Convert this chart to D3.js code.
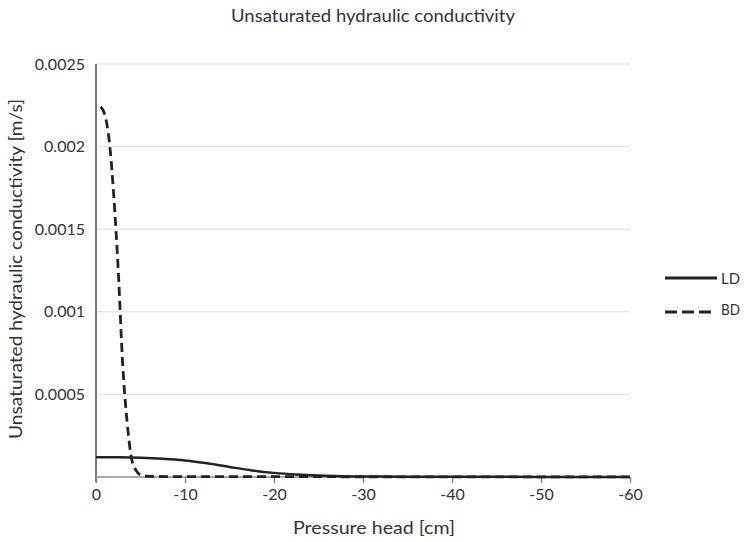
<!DOCTYPE html>
<html>
<head>
<meta charset="utf-8">
<script src="https://cdn.jsdelivr.net/npm/d3@7"></script>
<style>
  html, body { margin: 0; padding: 0; background: #fff; }
  svg { display: block; }
  text { font-family: Lato, "Open Sans", sans-serif; fill: #333; }
</style>
</head>
<body>
<svg id="chart" width="744" height="542"></svg>
<script>
// ---- data ----
const xTicks = [0, -10, -20, -30, -40, -50, -60];
const yTicks = [0.0005, 0.001, 0.0015, 0.002, 0.0025];
const seriesNames = ["LD", "BD"];
const ldX = [0, -2.5, -5, -7.5, -10, -12.5, -15, -17.5, -20, -22.5, -25, -27.5, -30, -35, -40, -50, -60];
const ldY = [0.00012, 0.000119, 0.000116, 0.00011, 0.000100, 0.000083, 0.000061, 0.000040, 0.000025, 0.000015, 0.0000085, 0.0000048, 0.000003, 0.0000018, 0.0000012, 0.0000007, 0.0000004];
const bdX = [0, -0.5, -1, -1.5, -2, -2.5, -3, -3.5, -4, -4.5, -5, -6, -10, -20, -30, -40, -50, -60];
const bdY = [0.00225, 0.00224, 0.00219, 0.00203, 0.0017, 0.00125, 0.00068, 0.00033, 0.00011, 0.00004, 0.000012, 0.000004, 0.000002, 0.000002, 0.0000015, 0.000001, 0.000001, 0.000001];

const svg = d3.select("#chart");
const mLeft = 96, mRight = 630, mTop = 64, mBottom = 477;

const x = d3.scaleLinear().domain([0, -60]).range([mLeft, mRight]);
const y = d3.scaleLinear().domain([0, 0.0025]).range([mBottom, mTop]);
const FONT = "Lato, 'Open Sans', sans-serif";

// title
svg.append("text").attr("x", 373).attr("y", 22).attr("text-anchor", "middle")
  .attr("font-size", 18).attr("textLength", 284).attr("lengthAdjust", "spacingAndGlyphs")
  .text("Unsaturated hydraulic conductivity");

// gridlines
svg.append("g").selectAll("line").data(yTicks).join("line")
  .attr("x1", mLeft).attr("x2", mRight)
  .attr("y1", d => y(d)).attr("y2", d => y(d))
  .attr("stroke", "#e6e6e6").attr("stroke-width", 1.5);

// y axis
const yAxis = d3.axisLeft(y).tickValues(yTicks).tickSize(0).tickPadding(11)
  .tickFormat(d => String(+d.toPrecision(2)));
const gy = svg.append("g").attr("transform", `translate(${mLeft},0)`).call(yAxis);
gy.select(".domain").remove();
gy.selectAll("text").attr("font-size", 16).attr("fill", "#333").attr("font-family", FONT);
svg.append("line").attr("x1", mLeft).attr("x2", mLeft).attr("y1", mTop).attr("y2", mBottom + 5)
  .attr("stroke", "#777").attr("stroke-width", 2);

// x axis
const xAxis = d3.axisBottom(x).tickValues(xTicks).tickSize(6).tickPadding(6)
  .tickFormat(d => d === 0 ? "0" : "-" + Math.abs(d));
const gx = svg.append("g").attr("transform", `translate(0,${mBottom})`).call(xAxis);
gx.select(".domain").attr("stroke", "#aaa").attr("stroke-width", 2).attr("d", `M${mLeft},0H${mRight}`);
gx.selectAll(".tick line").attr("stroke", "#888").attr("stroke-width", 1.5);
gx.selectAll("text").attr("font-size", 16).attr("fill", "#333").attr("font-family", FONT);

// axis titles
svg.append("text").attr("x", 374).attr("y", 534).attr("text-anchor", "middle")
  .attr("font-size", 18).attr("textLength", 162).attr("lengthAdjust", "spacingAndGlyphs")
  .text("Pressure head [cm]");
svg.append("text").attr("transform", "translate(22,269) rotate(-90)").attr("text-anchor", "middle")
  .attr("font-size", 18).attr("textLength", 340).attr("lengthAdjust", "spacingAndGlyphs")
  .text("Unsaturated hydraulic conductivity [m/s]");

// lines
const line = d3.line().x(d => x(d[0])).y(d => y(d[1])).curve(d3.curveMonotoneX);
const ld = ldX.map((v, i) => [v, ldY[i]]).sort((a, b) => a[0] - b[0]);
const bd = bdX.map((v, i) => [v, bdY[i]]).sort((a, b) => a[0] - b[0]);
svg.append("path").datum(ld).attr("d", line).attr("fill", "none")
  .attr("stroke", "#222").attr("stroke-width", 2.5);
svg.append("path").datum(bd).attr("d", line)
  .attr("fill", "none").attr("stroke", "#222").attr("stroke-width", 2.8).attr("stroke-dasharray", "9,5");

// legend
const lg = svg.append("g").selectAll("g").data(seriesNames).join("g")
  .attr("transform", (d, i) => `translate(665,${278 + i * 34})`);
lg.append("line").attr("x1", 0).attr("x2", (d, i) => i === 0 ? 52 : 46).attr("y1", 0).attr("y2", 0)
  .attr("stroke", "#222").attr("stroke-width", 3)
  .attr("stroke-dasharray", (d, i) => i === 1 ? "12,5" : null);
lg.append("text").attr("x", 56).attr("y", (d, i) => i === 0 ? 6 : 3).attr("font-size", 16)
  .attr("textLength", 19).attr("lengthAdjust", "spacingAndGlyphs").text(d => d);
</script>
</body>
</html>
